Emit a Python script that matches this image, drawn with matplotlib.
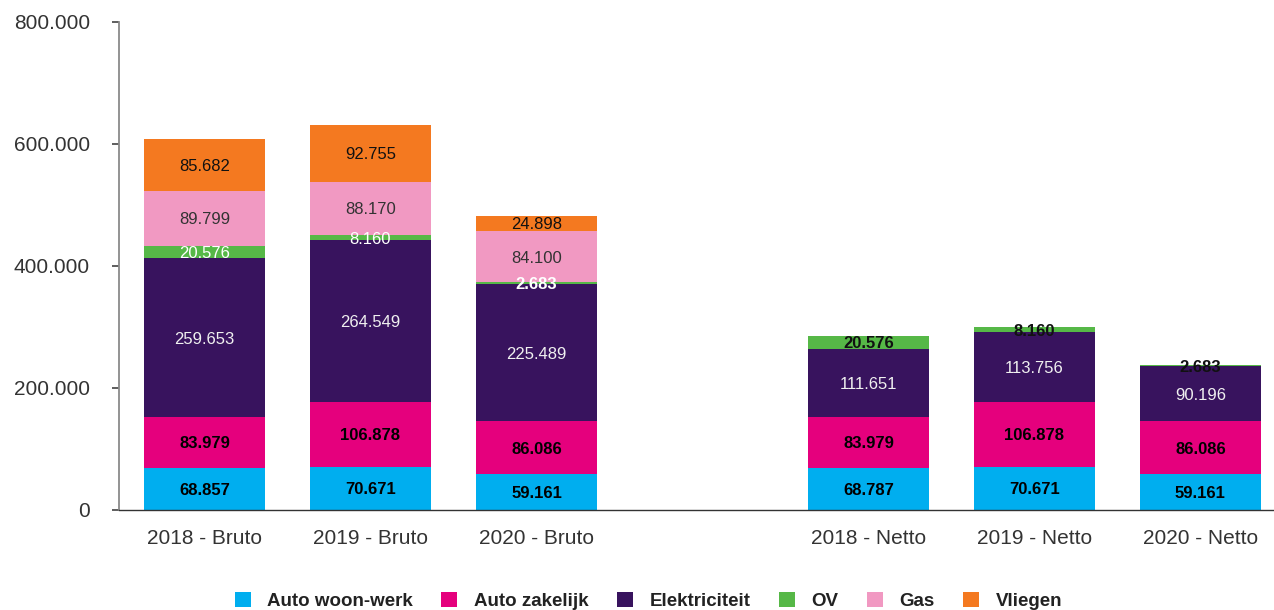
import numpy as np
import matplotlib
matplotlib.use('Agg')
import matplotlib.pyplot as plt

plt.rcParams['font.family'] = ['Liberation Sans', 'DejaVu Sans']

categories = ['2018 - Bruto', '2019 - Bruto', '2020 - Bruto',
              '2018 - Netto', '2019 - Netto', '2020 - Netto']
x_pos = [0, 1, 2, 4, 5, 6]

series = ['Auto woon-werk', 'Auto zakelijk', 'Elektriciteit', 'OV', 'Gas', 'Vliegen']
auto_woon_werk = [68857, 70671, 59161, 68787, 70671, 59161]
auto_zakelijk = [83979, 106878, 86086, 83979, 106878, 86086]
elektriciteit = [259653, 264549, 225489, 111651, 113756, 90196]
ov = [20576, 8160, 2683, 20576, 8160, 2683]
gas = [89799, 88170, 84100, 0, 0, 0]
vliegen = [85682, 92755, 24898, 0, 0, 0]

colors = ['#00AEEF', '#E5007D', '#38135E', '#56B847', '#F199C2', '#F47920']

# label style per series: (colour, weight) ; OV differs per bar
label_style = {
    0: [('black', 'bold')] * 6,
    1: [('black', 'bold')] * 6,
    2: [('#f0f0f0', 'normal')] * 6,
    3: [('white', 'normal'), ('white', 'normal'), ('white', 'bold'),
        ('#111111', 'bold'), ('#111111', 'bold'), ('#111111', 'bold')],
    4: [('#333333', 'normal')] * 6,
    5: [('#111111', 'normal')] * 6,
}


def fmt(v):
    return f'{v:,}'.replace(',', '.')


fig = plt.figure(figsize=(12.74, 6.10), dpi=100)
ax = fig.add_axes([0.0934, 0.164, 0.9066, 0.800])

data = [auto_woon_werk, auto_zakelijk, elektriciteit, ov, gas, vliegen]
bottom = np.zeros(len(categories))
for i, (name, vals) in enumerate(zip(series, data)):
    vals = np.array(vals, dtype=float)
    ax.bar(x_pos, vals, width=0.73, bottom=bottom, color=colors[i],
           label=name, linewidth=0)
    for j, v in enumerate(vals):
        if v > 0:
            c, w = label_style[i][j]
            ax.text(x_pos[j], bottom[j] + v / 2, fmt(int(v)), ha='center',
                    va='center_baseline', fontsize=12, color=c, fontweight=w)
    bottom += vals

ax.set_ylim(0, 800000)
ax.set_xlim(-0.515, 6.443)
ax.set_yticks([0, 200000, 400000, 600000, 800000])
ax.set_yticklabels(['0', '200.000', '400.000', '600.000', '800.000'])
ax.set_xticks(x_pos)
ax.set_xticklabels(categories)

ax.spines['top'].set_visible(False)
ax.spines['right'].set_visible(False)
ax.spines['left'].set_color('#8a8a8a')
ax.spines['left'].set_linewidth(1.3)
ax.spines['bottom'].set_color('#333333')
ax.spines['bottom'].set_linewidth(1.0)

ax.tick_params(axis='y', length=5, width=1.1, color='#333333', pad=16,
               labelsize=15, labelcolor='#333333')
ax.tick_params(axis='x', length=0, pad=14, labelsize=15, labelcolor='#333333')

leg = fig.legend(loc='center', bbox_to_anchor=(0.509, 0.015), ncol=6,
                 frameon=False, prop={'weight': 'bold', 'size': 13.5},
                 handlelength=0.85, handleheight=0.85, handletextpad=0.9,
                 columnspacing=1.5, borderaxespad=0)
for t in leg.get_texts():
    t.set_color('#222222')

fig.savefig('out.png', dpi=100)
